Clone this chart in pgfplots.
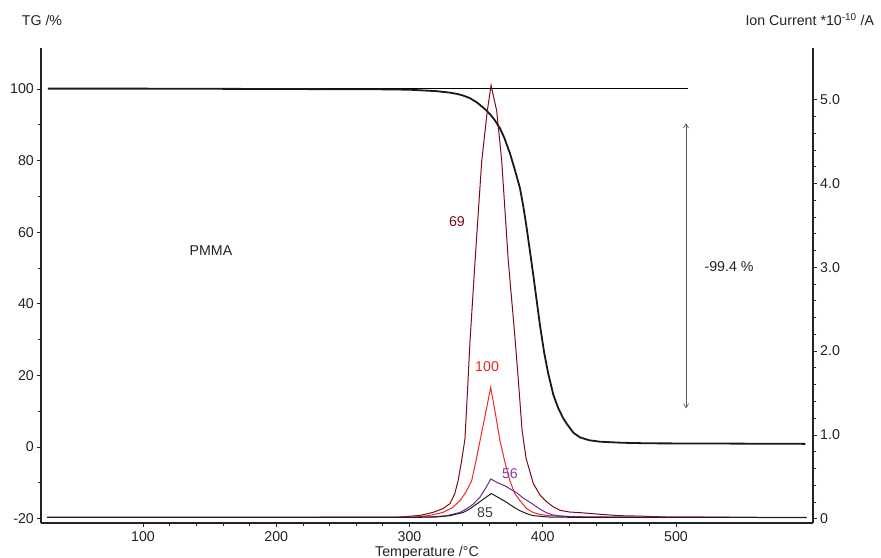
\documentclass[border=0pt]{standalone}
\usepackage{fontspec}
\setmainfont{Liberation Sans}
\usepackage{pgfplots}
\pgfplotsset{compat=1.18}
\usetikzlibrary{arrows.meta}

\definecolor{ms69}{RGB}{120,12,22}
\definecolor{ms100}{RGB}{240,40,40}
\definecolor{ms56}{RGB}{112,40,150}
\definecolor{ms85}{RGB}{30,30,30}
\definecolor{axisgray}{RGB}{35,35,35}

\pgfplotsset{
  common/.style={
    scale only axis, width=772bp, height=475bp,
    at={(41bp,35bp)}, anchor=south west,
    xmin=23.45, xmax=602.8,
    tick align=outside,
    major tick length=4bp, minor tick length=3bp,
    tick style={axisgray, line width=0.8bp},
    axis line style={-, axisgray, line width=1.6bp},
    tick label style={font=\fontsize{14.2bp}{16bp}\selectfont, text=axisgray},
    /pgf/number format/assume math mode=true,
  }
}

\begin{document}
\fontsize{14.2bp}{16bp}\selectfont
\begin{tikzpicture}
\useasboundingbox (0,0) rectangle (881bp,558bp);

% TG (left axis)
\begin{axis}[common,
  axis x line*=bottom, axis y line*=left,
  ymin=-21.2, ymax=111.45,
  ytick={-20,0,20,40,60,80,100}, minor y tick num=1,
  xtick={100,200,300,400,500}, minor x tick num=4,
  xticklabel style={inner sep=0pt, yshift=-4bp},
  yticklabel style={inner sep=0pt, xshift=-3bp},
]
\addplot[black, line width=0.8bp] coordinates {(28.7,100.3) (509,100.3)};
\addplot[black!90, line width=1.8bp] coordinates {
(28.7,100.1) (100,100.1) (200,100.0) (280,99.9) (300,99.8) (320,99.4)
(330,99.0) (336,98.6) (340,98.2) (345,97.5) (350,96.4) (355,94.9) (358,93.9)
(361,92.7) (364,91.3) (367.9,89.0) (371,86.5) (375.4,82.0) (379,77.5) (382.9,72.3)
(385.5,67.0) (388,61.0) (392.9,48.0) (397.9,34.0) (401,26.5) (404,20.7) (408,14.5) (411.5,11.0)
(415,8.3) (418,6.5) (423,4.0) (428,2.7) (435,1.9) (443,1.5) (460,1.2)
(480,1.05) (520,1.0) (597,0.9)};
\draw[black!65, line width=0.7bp, {Straight Barb[length=4bp,width=5bp]}-{Straight Barb[length=4bp,width=5bp]}]
  (axis cs:507.5,90.4) -- (axis cs:507.5,10.8);
\node[text=axisgray] at (axis cs:539.8,50.4) {-99.4 \%};
\node[text=axisgray] at (axis cs:151,55) {PMMA};
\end{axis}

% Ion currents (right axis)
\begin{axis}[common,
  axis x line=none, axis y line*=right,
  ymin=-0.0513, ymax=5.617,
  ytick={0,1,2,3,4,5}, yticklabels={0,1.0,2.0,3.0,4.0,5.0},
  minor y tick num=4,
  yticklabel style={inner sep=0pt, xshift=3bp},
]
\addplot[ms69, line width=1bp] coordinates {
(28,0.015) (100,0.015) (200,0.015) (270,0.02) (293,0.02) (308,0.04)
(317.6,0.075) (325,0.12) (330.4,0.18) (334,0.3) (336.4,0.45) (339,0.68)
(341.6,0.95) (343.6,1.55) (345.4,2.12) (349.2,3.08) (354.2,4.27) (358.4,4.87)
(361.2,5.17) (365.4,4.87) (369.2,4.27) (374.1,3.08) (378.4,2.3) (381.2,1.75)
(384.5,1.05) (387.5,0.72) (392.9,0.42) (398,0.28) (403,0.2) (408,0.14)
(413,0.1) (420,0.08) (430,0.07) (445,0.05) (458,0.036) (475,0.03)
(493,0.02) (535,0.016) (598,0.012)};
\addplot[ms100, line width=1bp] coordinates {
(28,0.015) (280,0.015) (300,0.02) (308,0.024) (317,0.045) (325.1,0.075)
(332,0.13) (337.9,0.215) (342,0.31) (346.6,0.45) (350,0.7) (352.9,0.93)
(357,1.25) (360.9,1.567) (364.5,1.25) (367.9,0.93) (371.5,0.68) (375.4,0.45)
(379,0.3) (382.9,0.215) (388,0.12) (392.7,0.075) (398,0.05) (405.4,0.036)
(420,0.025) (450,0.02) (500,0.02) (540,0.018)};
\addplot[ms56, line width=1bp] coordinates {
(28,0.015) (300,0.015) (320,0.025) (327.9,0.036) (337.9,0.075) (343,0.12)
(347.9,0.175) (353,0.26) (357,0.36) (361,0.474) (366,0.43) (371.9,0.39)
(376,0.35) (380.4,0.31) (385,0.25) (390.4,0.195) (397.9,0.115) (403,0.07)
(407.7,0.044) (415,0.03) (430,0.02) (500,0.015) (560,0.015)};
\addplot[ms85, line width=1bp] coordinates {
(28,0.015) (300,0.015) (320,0.02) (330.4,0.036) (340.4,0.075) (345,0.115)
(350.4,0.175) (356,0.24) (361.4,0.30) (367,0.25) (372.9,0.195) (378,0.14)
(382.9,0.095) (388,0.06) (392.9,0.036) (405,0.02) (430,0.015) (598,0.015)};
\node[text=ms69] at (axis cs:335.6,3.54) {69};
\node[text=ms100] at (axis cs:358.2,1.82) {100};
\node[text={rgb,255:red,140;green,60;blue,170}] at (axis cs:375.4,0.543) {56};
\node[text=ms85!85] at (axis cs:356.7,0.075) {85};
\end{axis}

\node[text=axisgray] at (42bp,538bp) {TG /\%};
\node[text=axisgray, anchor=east] at (879bp,538bp) {Ion Current *10\textsuperscript{-10} /A};
\node[text=axisgray, anchor=base] at (427bp,1.5bp) {Temperature /°C};
\end{tikzpicture}
\end{document}
